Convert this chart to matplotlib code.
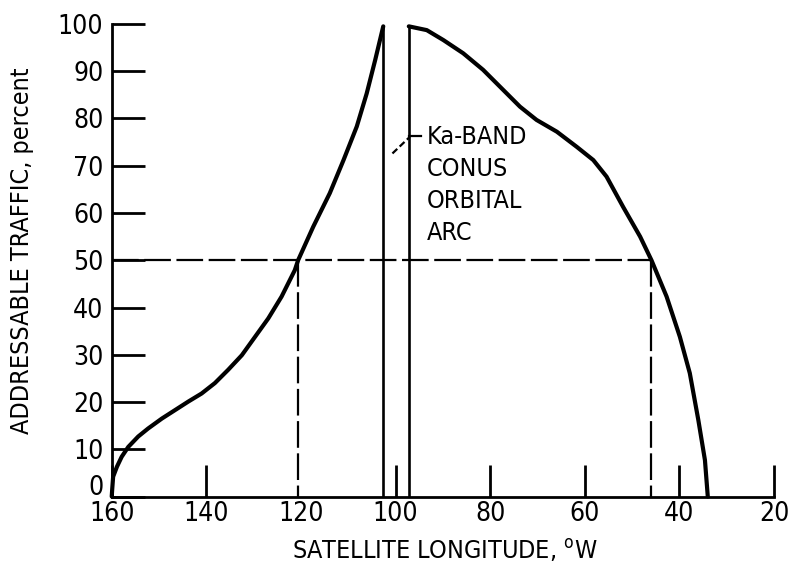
import matplotlib
matplotlib.use("Agg")
import matplotlib.pyplot as plt
from matplotlib import font_manager
from matplotlib.transforms import ScaledTranslation

# font: narrow sans to mimic the condensed lettering of the scan
names = {f.name for f in font_manager.fontManager.ttflist}
FONT = "Liberation Sans Narrow" if "Liberation Sans Narrow" in names else "DejaVu Sans"
plt.rcParams["font.family"] = FONT
plt.rcParams["font.stretch"] = "condensed"
plt.rcParams["mathtext.fontset"] = "custom"
plt.rcParams["mathtext.rm"] = FONT

# ---------------------------------------------------------------
# data
# ---------------------------------------------------------------
# west side of the arc (longitude decreasing toward the arc edge)
lon_west = [160, 159.9, 159.7, 158.9, 157.9, 156.5, 154.4, 152.3, 149.4, 146.6,
            143.8, 141.0, 138.2, 135.4, 132.5, 129.7, 126.9, 124.1, 121.3, 120.6,
            117.4, 113.9, 111.0, 108.2, 106.1, 104.3, 102.6]
traffic_west = [0, 1.5, 4.2, 6.3, 8.4, 10.5, 12.7, 14.4, 16.5, 18.3,
                20.1, 21.8, 24.0, 26.8, 29.9, 33.8, 37.7, 42.3, 47.9, 50.0,
                57.1, 64.2, 71.2, 78.3, 85.3, 92.4, 99.5]

# east side of the arc
lon_east = [97.2, 93.4, 89.9, 85.7, 81.5, 77.2, 73.7, 70.2, 65.9, 61.7,
            58.2, 55.4, 51.9, 48.3, 45.9, 42.7, 39.9, 37.8, 36.0, 34.6, 34.0]
traffic_east = [99.5, 98.7, 96.6, 93.8, 90.3, 86.0, 82.5, 79.7, 77.2, 74.0,
                71.2, 67.7, 61.3, 55.0, 50.0, 42.3, 33.8, 26.1, 16.2, 7.7, 0]

# edges of the Ka-band CONUS orbital arc
arc_edges = [102.6, 97.2]
arc_top = 99.5

# 50 percent reference
half_level = 50
half_lons = [120.6, 45.9]

x_ticks = [160, 140, 120, 100, 80, 60, 40, 20]
y_ticks = [0, 10, 20, 30, 40, 50, 60, 70, 80, 90, 100]

# ---------------------------------------------------------------
fig = plt.figure(figsize=(7.89, 5.67), dpi=100)
ax = fig.add_axes([0.1416, 0.1243, 0.8394, 0.8334])

for lx, ty in [(lon_west, traffic_west), (lon_east, traffic_east)]:
    ax.plot(lx, ty, color="black", lw=3.0, solid_capstyle="round",
            solid_joinstyle="round", clip_on=False)
ax.vlines(arc_edges, 0, arc_top, color="black", lw=1.9)

# dashed 50 % lines
ax.plot([160, half_lons[1]], [half_level, half_level], color="black", lw=1.6,
        dashes=(12, 2.5))
for lon in half_lons:
    ax.plot([lon, lon], [half_level, 0], color="black", lw=1.6, dashes=(12, 2.5))

# annotation with leader
ax.plot([100.66, 97.0], [72.6, 76.1], color="black", lw=1.6, dashes=(3, 1.5))
ax.plot([97.2, 94.6], [76.3, 76.3], color="black", lw=1.6)
ax.text(93.4, 78.6, "Ka-BAND\nCONUS\nORBITAL\nARC", ha="left", va="top",
        fontsize=18, linespacing=1.42)

ax.set_xlim(160, 20)
ax.set_ylim(0, 100)
ax.set_xticks(x_ticks)
ax.set_yticks(y_ticks)
ax.set_xticklabels([str(v) for v in x_ticks])
ax.set_yticklabels([str(v) for v in y_ticks])

ax.spines["top"].set_visible(False)
ax.spines["right"].set_visible(False)
for s in ["left", "bottom"]:
    ax.spines[s].set_linewidth(2.0)

ax.tick_params(axis="both", direction="in", width=2.0, labelsize=19)
ax.tick_params(axis="x", length=23, pad=3)
ax.tick_params(axis="y", length=24, pad=6)

# no tick mark drawn at 120 in the original (dashed line sits there)
ax.xaxis.get_major_ticks()[2].tick1line.set_visible(False)
# the "0" on the y axis sits a bit above the corner
lab0 = ax.yaxis.get_major_ticks()[0].label1
lab0.set_transform(lab0.get_transform() + ScaledTranslation(0, 8 / 72, fig.dpi_scale_trans))

ax.set_xlabel("SATELLITE LONGITUDE, $^{\\mathrm{o}}$W", fontsize=18)
ax.set_ylabel("ADDRESSABLE TRAFFIC, percent", fontsize=18)
ax.xaxis.set_label_coords(0.503, -0.086)
ax.xaxis.label.set_va("top")
ax.yaxis.set_label_coords(-0.118, 0.52)

fig.savefig("out.png", dpi=100)
